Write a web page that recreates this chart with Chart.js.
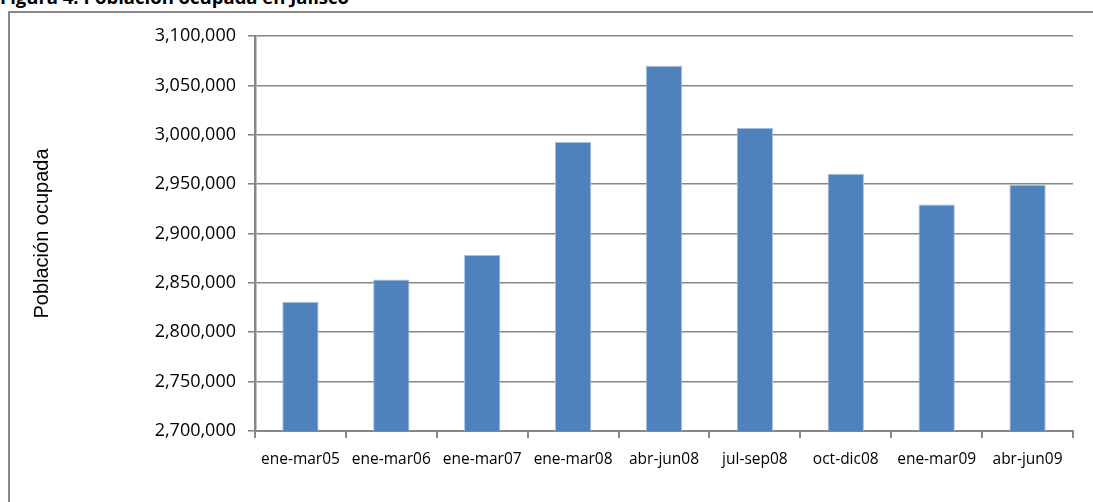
<!DOCTYPE html>
<html lang="es">
<head>
<meta charset="utf-8">
<title>Figura 4. Población ocupada en Jalisco</title>
<script src="https://cdn.jsdelivr.net/npm/chart.js@4.4.1/dist/chart.umd.min.js"></script>
<style>
  html, body { margin: 0; padding: 0; background: #fff; overflow: hidden; }
  body { width: 1093px; height: 502px; position: relative; }
  #titulo {
    position: absolute; left: 0; top: -12px;
    font: bold 18.5px 'Open Sans', sans-serif; line-height: 18.5px;
    color: #000; white-space: nowrap;
  }
  #marco {
    position: absolute; left: 8px; top: 11px; width: 1200px; height: 600px;
    border: 2.5px solid #898989; box-sizing: border-box;
  }
  #wrap { position: absolute; left: 0; top: 0; width: 1093px; height: 502px; }
</style>
</head>
<body>
<div id="titulo">Figura 4. Población ocupada en Jalisco</div>
<div id="marco"></div>
<div id="wrap"><canvas id="chart" width="1093" height="502"></canvas></div>
<script>
// periodos trimestrales (ENOE)
const periodos = ['ene-mar05', 'ene-mar06', 'ene-mar07', 'ene-mar08', 'abr-jun08',
  'jul-sep08', 'oct-dic08', 'ene-mar09', 'abr-jun09'];
const ocupados = [2831000, 2853500, 2878300, 2992600, 3070000, 3007100, 2960400, 2929400, 2949300];
const yMin = 2700000;
const yMax = 3100000;
const yStep = 50000;

const GRID = '#878787';
const BAR = '#4F81BD';

const ctx = document.getElementById('chart');
new Chart(ctx, {
  type: 'bar',
  data: {
    labels: periodos,
    datasets: [{
      label: 'Población ocupada',
      data: ocupados,
      backgroundColor: BAR,
      borderColor: '#A9C0DD',
      borderWidth: 1,
      categoryPercentage: 1,
      barPercentage: 0.4,
    }],
  },
  options: {
    responsive: false,
    animation: false,
    devicePixelRatio: 1,
    layout: { padding: { top: 36, right: 20, bottom: 0, left: 10 } },
    plugins: {
      legend: { display: false },
      tooltip: { enabled: false },
    },
    scales: {
      x: {
        grid: { display: true, drawOnChartArea: false, drawTicks: true, tickLength: 7, color: GRID, lineWidth: 2 },
        border: { color: GRID, width: 2 },
        ticks: {
          color: '#000',
          padding: 12,
          maxRotation: 0,
          font: { family: "'Open Sans', sans-serif", size: 15.5 },
        },
        afterFit: (scale) => { scale.height = 71; },
      },
      y: {
        min: yMin,
        max: yMax,
        grid: { color: GRID, lineWidth: 1.6, tickLength: 7 },
        border: { color: GRID, width: 2.5 },
        ticks: {
          stepSize: yStep,
          color: '#000',
          padding: 12,
          font: { family: "'Open Sans', sans-serif", size: 18 },
          callback: (v) => v.toLocaleString('en-US'),
        },
        title: {
          display: true,
          text: 'Población ocupada',
          color: '#000',
          padding: { top: 20, bottom: 0 },
          font: { family: "'Liberation Sans', Arial, sans-serif", size: 20, weight: 'normal' },
        },
        afterFit: (scale) => { scale.width = 245; },
      },
    },
  },
});
</script>
</body>
</html>
